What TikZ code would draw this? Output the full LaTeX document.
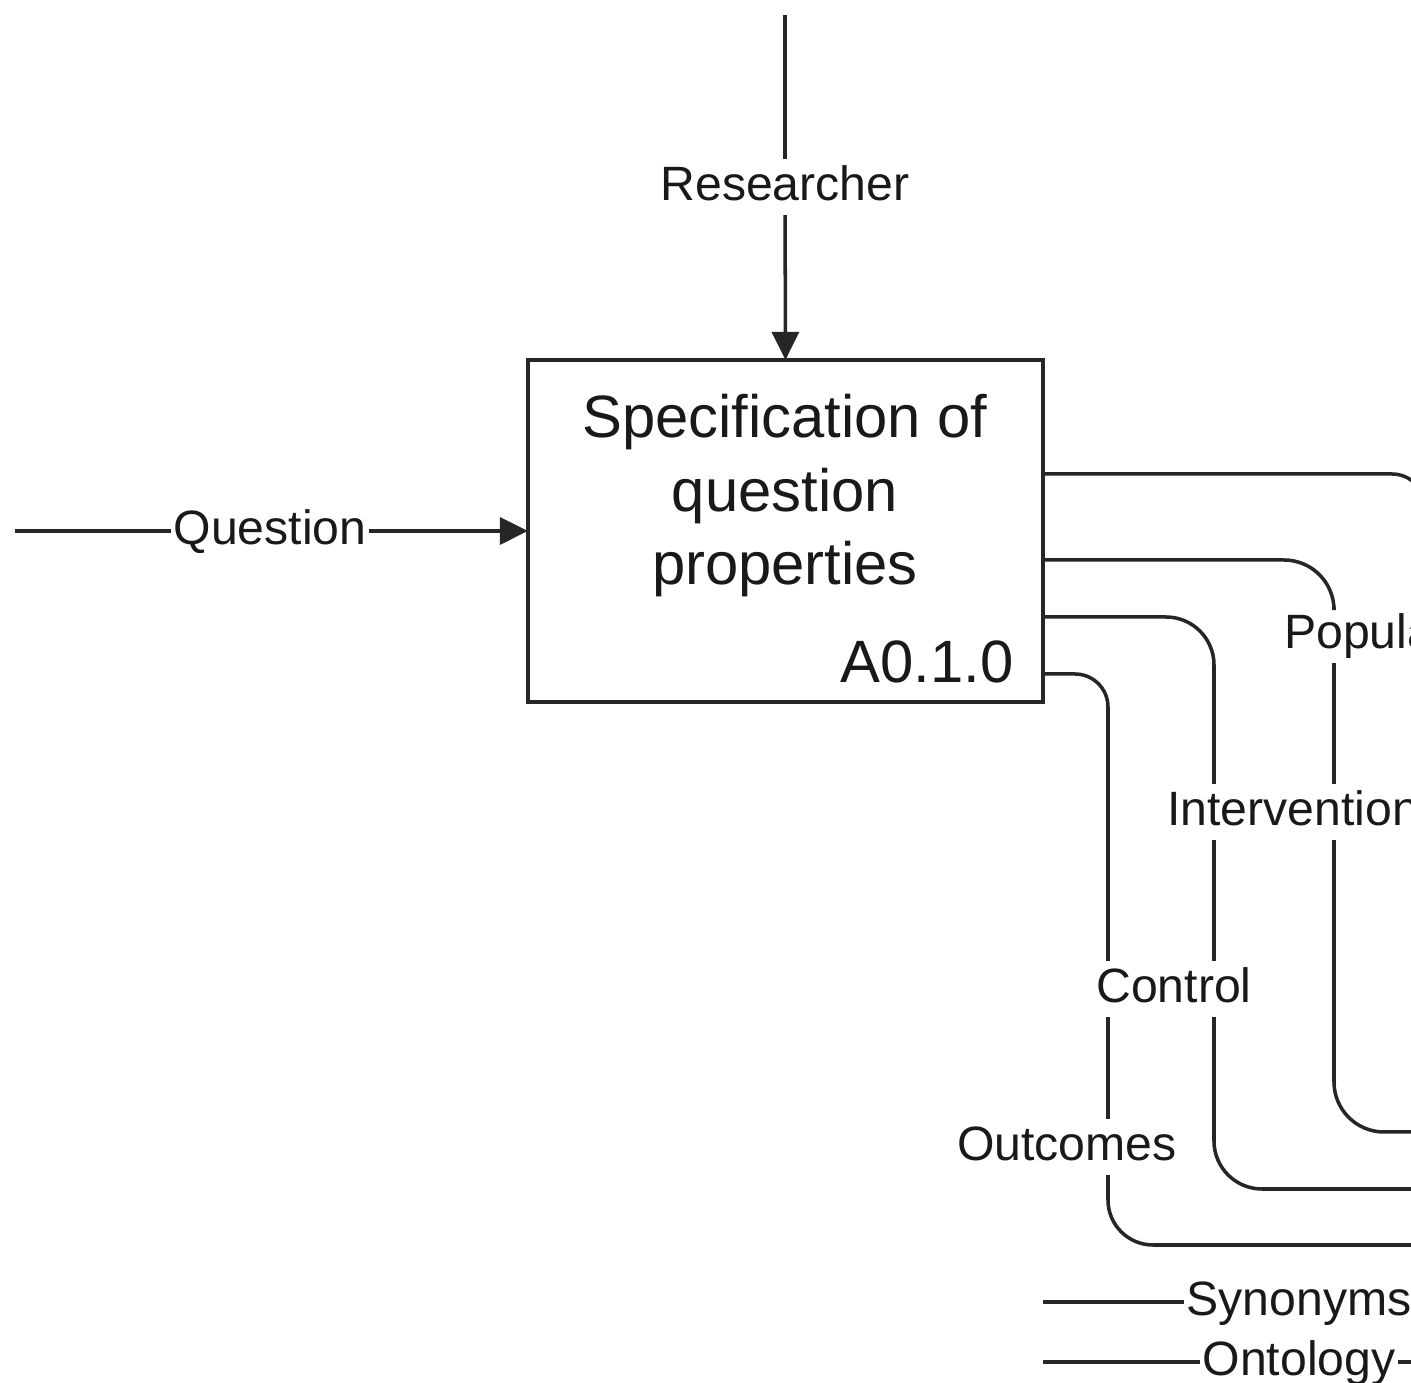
\documentclass[tikz,border=0pt]{standalone}
\usepackage{fontspec}
\setmainfont{Liberation Sans}
\usetikzlibrary{arrows.meta}
\begin{document}
\begin{tikzpicture}[x=0.01cm,y=-0.01cm,
  flow/.style={draw=black!85, line width=1pt},
  arrowflow/.style={flow, -{Triangle[length=0.28cm,width=0.27cm]}},
  lbl/.style={fill=white, inner xsep=0.6pt, inner ysep=1.5pt, outer sep=0pt,
    text height=10.3pt, text depth=2.75pt,
    font=\fontsize{13.7}{16}\selectfont, text=black!90},
  activity/.style={draw=black!85, line width=1pt, minimum width=5.15cm,
    minimum height=3.42cm, inner sep=0pt, outer sep=0pt},
  title/.style={font=\fontsize{17}{20.9}\selectfont, anchor=base, inner sep=0pt, text=black!90}]
\useasboundingbox (0,0) rectangle (1411,1383);
\clip (0,0) rectangle (1411,1383);
\fill[white] (0,0) rectangle (1411,1383);

% activity box
\node[activity] (spec) at (785.5,531) {};
\node[title] (t1) at (785,438) {Specification of};
\node[title] (t2) at (785,512) {question};
\node[title] (t3) at (785,585) {properties};
\node[title, anchor=base east] (id) at (1014,683) {A0.1.0};

% labels
\node[lbl] (researcher) at (785,187) {Researcher};
\node[lbl] (question) at (270,531) {Question};
\node[lbl] (population) at (1398,635) {Population};
\node[lbl] (intervention) at (1293,812) {Intervention};
\node[lbl] (control) at (1174,989) {Control};
\node[lbl] (outcomes) at (1067,1147) {Outcomes};
\node[lbl] (synonyms) at (1299,1302) {Synonyms};
\node[lbl] (ontology) at (1299,1362) {Ontology};

% mechanism and input
\coordinate (rsrc) at (785,15);
\coordinate (qsrc) at (15,531);
\draw[flow] (rsrc) -- (researcher);
\draw[arrowflow] (researcher) -- (spec.north);
\draw[flow] (qsrc) -- (question);
\draw[arrowflow] (question) -- (spec.west);

% outputs leaving the right side
\coordinate (o1) at (1043,474);
\coordinate (o2) at (1043,560);
\coordinate (o3) at (1043,617);
\coordinate (o4) at (1043,674);
\coordinate (e1) at (1425,720);
\coordinate (e2) at (1440,1132);
\coordinate (e3) at (1440,1189);
\coordinate (e4) at (1440,1245);
\coordinate (c2) at (1334,0);
\coordinate (c3) at (1214,0);
\coordinate (c4) at (1108,0);

\draw[flow, rounded corners=0.33cm] (o1) -- (e1 |- o1) -- (e1);

\draw[flow, rounded corners=0.5cm] (o2) -- (c2 |- o2) -- (population.north -| c2);
\draw[flow] (population.south -| c2) -- (intervention.north -| c2);
\draw[flow, rounded corners=0.5cm] (intervention.south -| c2) -- (c2 |- e2) -- (e2);

\draw[flow, rounded corners=0.48cm] (o3) -- (c3 |- o3) -- (intervention.north -| c3);
\draw[flow] (intervention.south -| c3) -- (control.north -| c3);
\draw[flow, rounded corners=0.48cm] (control.south -| c3) -- (c3 |- e3) -- (e3);

\draw[flow, rounded corners=0.33cm] (o4) -- (c4 |- o4) -- (control.north -| c4);
\draw[flow] (control.south -| c4) -- (outcomes.north -| c4);
\draw[flow, rounded corners=0.45cm] (outcomes.south -| c4) -- (c4 |- e4) -- (e4);

% further flows below
\coordinate (s0) at (1043,1302);
\coordinate (s1) at (1440,1302);
\coordinate (n0) at (1043,1362);
\coordinate (n1) at (1440,1362);
\draw[flow] (s0) -- (synonyms);
\draw[flow] (synonyms) -- (s1);
\draw[flow] (n0) -- (ontology);
\draw[flow] (ontology) -- (n1);
\end{tikzpicture}
\end{document}
